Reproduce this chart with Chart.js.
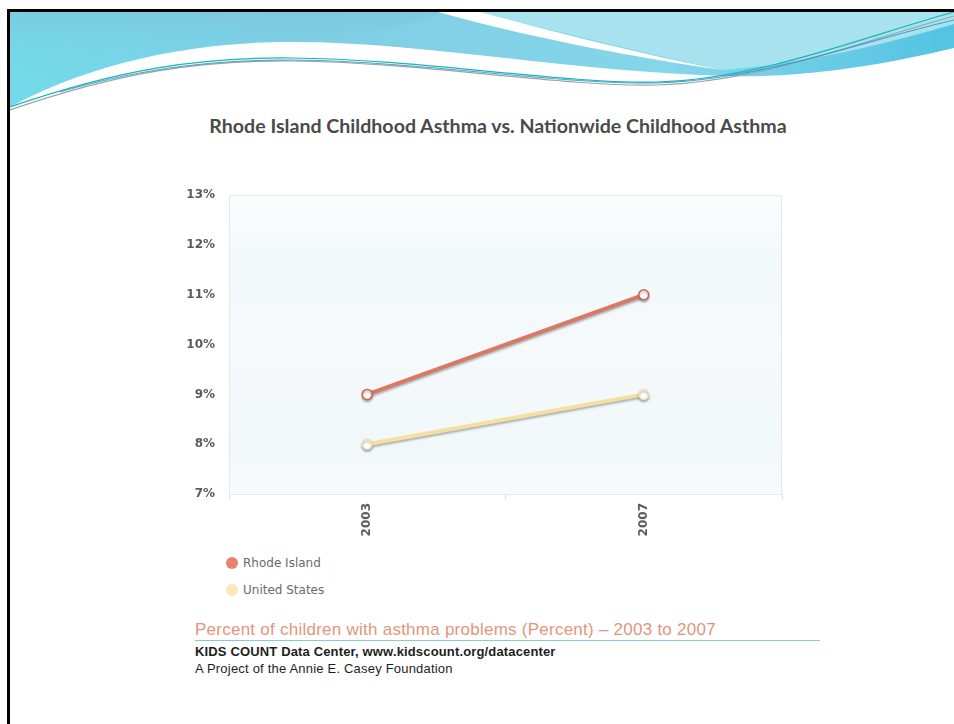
<!DOCTYPE html>
<html>
<head>
<meta charset="utf-8">
<script src="https://cdn.jsdelivr.net/npm/chart.js@4/dist/chart.umd.min.js"></script>
<style>
  html, body { margin: 0; padding: 0; background: #ffffff; }
  body { width: 954px; height: 724px; position: relative; overflow: hidden; }
  #frame { position: absolute; left: 7px; top: 9px; width: 960px; height: 730px;
           border-left: 3px solid #000; border-top: 3px solid #000; box-sizing: border-box; }
  #banner { position: absolute; left: 10px; top: 12px; }
  #title { position: absolute; left: 0; width: 996px; top: 114px; text-align: center;
           font-family: Lato, "Open Sans", sans-serif; font-weight: 700; font-size: 19.6px; color: #4a4a4a; }
  #chartBox { position: absolute; left: 150px; top: 174px; width: 650px; height: 366px; }
  #legend { position: absolute; left: 225px; top: 553px; font-family: "DejaVu Sans", sans-serif;
            font-size: 12px; color: #6a6a6a; }
  .item { position: relative; height: 27px; padding-left: 18px; line-height: 20px; }
  .dot { position: absolute; left: 1px; top: 4px; width: 12px; height: 12px; border-radius: 50%; }
  #subtitle { position: absolute; left: 195px; top: 620px; font-family: "Liberation Sans", Arial, sans-serif;
              font-size: 17px; color: #e3957c; white-space: nowrap; letter-spacing: 0.25px; }
  #rule { position: absolute; left: 195px; top: 640px; width: 625px; height: 1px; background: #86c9dd; }
  #source { position: absolute; left: 195px; top: 644px; font-family: "Liberation Sans", Arial, sans-serif;
            font-size: 13px; font-weight: 700; color: #1e1e1e; white-space: nowrap; letter-spacing: 0.15px; }
  #project { position: absolute; left: 195px; top: 661px; font-family: "Liberation Sans", Arial, sans-serif;
             font-size: 13px; color: #1e1e1e; white-space: nowrap; letter-spacing: 0.2px; }
</style>
</head>
<body>
<div id="frame"></div>
<svg id="banner" width="944" height="110" viewBox="10 12 944 110">
  <defs>
    <linearGradient id="bandFill" x1="0" y1="0" x2="1" y2="0">
      <stop offset="0" stop-color="#74d9ea"/>
      <stop offset="0.3" stop-color="#80cde3"/>
      <stop offset="0.7" stop-color="#84d6ea"/>
      <stop offset="1" stop-color="#52c3e2"/>
    </linearGradient>
    <linearGradient id="leftShade" x1="0" y1="0" x2="0" y2="1">
      <stop offset="0" stop-color="#7cc6de" stop-opacity="0.7"/>
      <stop offset="1" stop-color="#6ee6ef" stop-opacity="0"/>
    </linearGradient>
  </defs>
  <!-- main blue band -->
  <path d="M10,12 H954 V48 C880,66 800,78 730,76 C560,72 420,40 280,42 C150,44 60,80 10,107 Z" fill="url(#bandFill)"/>
  <path d="M10,12 H440 C420,30 300,40 280,42 C150,44 60,80 10,107 Z" fill="url(#leftShade)"/>
  <!-- pale upper-right sheet -->
  <path d="M478,12 H954 V24 C880,46 800,64 722,70 C640,52 550,30 478,12 Z" fill="#a7e2ee"/>
  <!-- white stripe -->
  <path d="M438,12 H480 C560,34 650,56 722,70 C640,58 530,38 438,12 Z" fill="#ffffff"/>
  <!-- thin swoosh lines -->
  <path d="M10,110 C120,72 200,60 292,61 C420,62 560,87 657,85 C760,82 860,42 954,16" fill="none" stroke="#9aa4a8" stroke-width="1.2"/>
  <path d="M10,107 C120,69 200,57 292,58 C420,59 560,84 657,82 C760,79 860,38 954,12" fill="none" stroke="#14b8b4" stroke-width="1.2"/>
  <path d="M60,92 C150,66 220,60 292,60 C420,61 560,85 657,83 C760,80 860,42 954,20" fill="none" stroke="#2a86c8" stroke-width="0.8"/>
</svg>

<div id="title">Rhode Island Childhood Asthma vs. Nationwide Childhood Asthma</div>

<div id="chartBox"><canvas id="chart"></canvas></div>
<div id="legend"></div>

<div id="subtitle">Percent of children with asthma problems (Percent) – 2003 to 2007</div>
<div id="rule"></div>
<div id="source">KIDS COUNT Data Center, www.kidscount.org/datacenter</div>
<div id="project">A Project of the Annie E. Casey Foundation</div>

<script>
// Survey years and percent of children with asthma problems
const years = ['2003', '2007'];
const rhodeIsland = [9, 11];
const unitedStates = [8, 9];
const seriesNames = ['Rhode Island', 'United States'];
const yMin = 7, yMax = 13, yStep = 1;

const lineColors = ['#dc7862', '#f8dea0'];
const pointEdges = ['#d65f4a', '#f3dfae'];
const legendDots = ['#e8836b', '#fbe6b6'];

// Faint bluish plot background with a light frame
const plotBackdrop = {
  id: 'plotBackdrop',
  beforeDatasetsDraw(chart) {
    const { ctx, chartArea: a } = chart;
    ctx.save();
    const g = ctx.createLinearGradient(0, a.top, 0, a.bottom);
    g.addColorStop(0, '#fbfdfe');
    g.addColorStop(0.2, '#f3f8fb');
    g.addColorStop(0.5, '#f5f9fc');
    g.addColorStop(0.85, '#f2f7fa');
    g.addColorStop(1, '#f8fbfd');
    ctx.fillStyle = g;
    ctx.fillRect(a.left, a.top, a.right - a.left, a.bottom - a.top);
    ctx.strokeStyle = '#e1e8ef';
    ctx.lineWidth = 1;
    ctx.strokeRect(a.left + 0.5, a.top + 0.5, a.right - a.left - 1, a.bottom - a.top);
    ctx.restore();
  }
};

// Soft drop shadow under each line
const lineShadow = {
  id: 'lineShadow',
  beforeDatasetDraw(chart) {
    const ctx = chart.ctx;
    ctx.save();
    ctx.shadowColor = 'rgba(80, 100, 95, 0.45)';
    ctx.shadowOffsetX = 0;
    ctx.shadowOffsetY = 2;
    ctx.shadowBlur = 2;
  },
  afterDatasetDraw(chart) {
    chart.ctx.restore();
  }
};

const tickFont = { family: 'DejaVu Sans', size: 12, weight: 'bold' };

const seriesValues = [rhodeIsland, unitedStates];
const chart = new Chart(document.getElementById('chart'), {
  type: 'line',
  data: {
    labels: years,
    datasets: seriesValues.map((vals, i) => ({
      label: seriesNames[i],
      data: vals,
      borderColor: lineColors[i],
      backgroundColor: legendDots[i],
      borderWidth: 4,
      pointRadius: 5,
      pointBackgroundColor: '#ffffff',
      pointBorderColor: pointEdges[i],
      pointBorderWidth: 1.5,
      tension: 0
    }))
  },
  options: {
    responsive: true,
    maintainAspectRatio: false,
    animation: false,
    layout: { padding: { top: 9, right: 18, bottom: 0, left: 0 } },
    plugins: { legend: { display: false }, tooltip: { enabled: false } },
    scales: {
      x: {
        offset: true,
        grid: { offset: true, drawOnChartArea: false, drawTicks: true, tickLength: 5, color: '#d3dbe3' },
        border: { display: true, color: '#d3dce6' },
        ticks: {
          minRotation: 90, maxRotation: 90, padding: 4,
          font: tickFont, color: '#5a5a5a'
        },
        afterFit(scale) { scale.height = 46; }
      },
      y: {
        min: yMin, max: yMax,
        grid: { display: false, drawTicks: false },
        border: { display: false },
        ticks: {
          stepSize: yStep, padding: 14,
          font: tickFont, color: '#5a5a5a',
          callback: v => v + '%'
        },
        afterFit(scale) { scale.width = 79; }
      }
    }
  },
  plugins: [plotBackdrop, lineShadow]
});

// Legend entries built from the chart's datasets
const legendEl = document.getElementById('legend');
chart.data.datasets.forEach(ds => {
  const row = document.createElement('div');
  row.className = 'item';
  const dot = document.createElement('span');
  dot.className = 'dot';
  dot.style.background = ds.backgroundColor;
  row.appendChild(dot);
  row.appendChild(document.createTextNode(ds.label));
  legendEl.appendChild(row);
});
</script>
</body>
</html>
